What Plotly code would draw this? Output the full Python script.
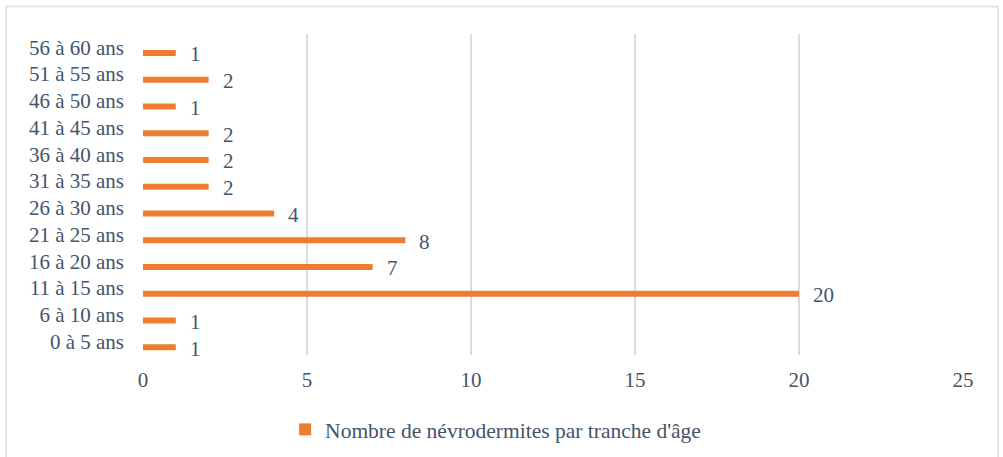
import plotly.graph_objects as go

categories = ["0 à 5 ans", "6 à 10 ans", "11 à 15 ans", "16 à 20 ans", "21 à 25 ans",
              "26 à 30 ans", "31 à 35 ans", "36 à 40 ans", "41 à 45 ans", "46 à 50 ans",
              "51 à 55 ans", "56 à 60 ans"]
values = [1, 1, 20, 7, 8, 4, 2, 2, 2, 1, 2, 1]
series_name = "Nombre de névrodermites par tranche d'âge"
x_ticks = [0, 5, 10, 15, 20, 25]

W, H = 1003, 457
L, R, T, B = 143, 40, 33.6, 101.6
pw, ph = W - L - R, H - T - B

FONT = "Liberation Serif, Times New Roman, serif"
TXT = "#44546A"
ORANGE = "#ED7D31"

fig = go.Figure()
fig.add_trace(go.Bar(
    y=categories, x=values, orientation="h",
    name=series_name,
    marker=dict(color=ORANGE, line=dict(width=0)),
    width=0.22, offset=-0.32,
    textposition="none",
    hoverinfo="x+y",
))

annotations = [
    dict(x=v, y=c, xref="x", yref="y", text=str(v), showarrow=False,
         xanchor="left", yanchor="middle", xshift=12, yshift=-7,
         font=dict(family=FONT, size=21, color=TXT))
    for c, v in zip(categories, values)
]

def px_to_paper_x(px):
    return (px - L) / pw

def px_to_paper_y(py):
    return (H - B - py) / ph

frame = dict(color="#E1E4EC", width=2)
shapes = [
    dict(type="line", xref="paper", yref="paper",
         x0=px_to_paper_x(6), x1=px_to_paper_x(6), y0=px_to_paper_y(6), y1=px_to_paper_y(470), line=frame),
    dict(type="line", xref="paper", yref="paper",
         x0=px_to_paper_x(6), x1=px_to_paper_x(998), y0=px_to_paper_y(6), y1=px_to_paper_y(6), line=frame),
    dict(type="line", xref="paper", yref="paper",
         x0=px_to_paper_x(998), x1=px_to_paper_x(998), y0=px_to_paper_y(6), y1=px_to_paper_y(470), line=frame),
]

fig.update_layout(
    width=W, height=H,
    margin=dict(l=L, r=R, t=T, b=B, autoexpand=False),
    paper_bgcolor="white", plot_bgcolor="white",
    font=dict(family=FONT, size=21, color=TXT),
    showlegend=True,
    legend=dict(orientation="h", x=0.43, xanchor="center", y=px_to_paper_y(430), yanchor="middle",
                font=dict(family=FONT, size=21.5, color=TXT), itemwidth=30),
    xaxis=dict(range=[0, 25], tickvals=x_ticks, ticktext=[str(t) for t in x_ticks],
               showgrid=True, gridcolor="#D9DCE4", gridwidth=1.5,
               zeroline=False, showline=False, ticks="", automargin=False,
               tickfont=dict(family=FONT, size=21, color=TXT), ticklabelstandoff=10),
    yaxis=dict(categoryorder="array", categoryarray=categories, range=[-0.5, 11.5],
               showgrid=False, zeroline=False, showline=False, ticks="", automargin=False,
               tickfont=dict(family=FONT, size=21, color=TXT), ticklabelstandoff=18),
    shapes=shapes,
    annotations=annotations,
)

fig.write_html("out.html", config={"displayModeBar": False},
               post_script="document.body.style.margin='0';document.body.style.overflow='hidden';")
